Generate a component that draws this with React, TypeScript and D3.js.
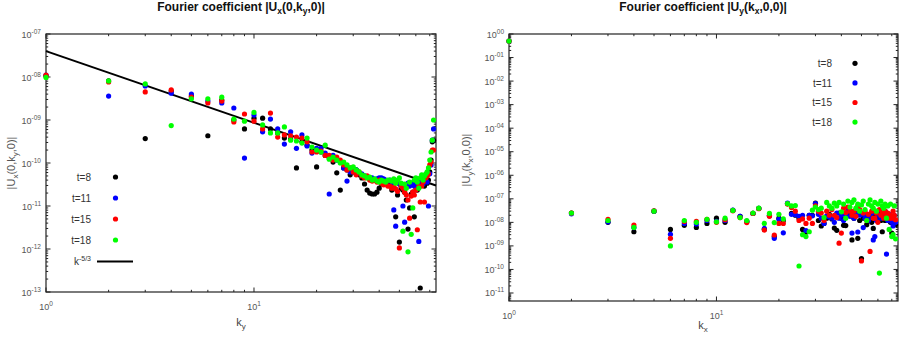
import React from "react";
import * as d3 from "d3";

// ---------- data ----------
const wavenumbers = [
  1, 2, 3, 4, 5, 6, 7, 8, 9, 10, 11, 12, 13, 14, 15, 16, 17, 18, 19, 20,
  21, 22, 23, 24, 25, 26, 27, 28, 29, 30, 31, 32, 33, 34, 35, 36, 37, 38, 39, 40,
  41, 42, 43, 44, 45, 46, 47, 48, 49, 50, 51, 52, 53, 54, 55, 56, 57, 58, 59, 60,
  61, 62, 63, 64, 65, 66, 67, 68, 69, 70, 71, 72, 73,
];

// |Ux(0,ky,0)|
const uxT8 = [
  1.05e-8, 8.1e-9, 3.7e-10, 4.7e-9, 3.6e-9, 4.3e-10, 2.9e-9, 1.0e-9, 6.2e-10, 1.1e-9,
  1.1e-9, 6.2e-10, 5.0e-10, 3.8e-10, 3.6e-10, 7.7e-11, 3.1e-10, 2.6e-10, 2.0e-10, 8.1e-11,
  1.8e-10, 1.5e-10, 1.3e-10, 1.05e-10, 5.9e-11, 2.35e-11, 7.7e-11, 6.9e-11, 5.3e-11, 6.2e-11,
  6.9e-11, 5.3e-11, 4.5e-11, 3.25e-11, 2.35e-11, 2.0e-11, 1.9e-11, 1.9e-11, 2.1e-11, 2.6e-11,
  3.25e-11, 4.0e-11, 3.8e-11, 3.4e-11, 3.25e-11, 2.35e-11, 3.4e-11, 5.6e-12, 1.8e-11, 1.45e-12,
  2.6e-11, 2.35e-11, 2.1e-11, 1.38e-11, 2.9e-12, 9.0e-12, 1.9e-11, 2.1e-11, 5.6e-12, 2.75e-11,
  2.35e-11, 3.1e-11, 1.24e-13, 3.6e-11, 3.25e-11, 2.9e-11, 3.6e-11, 3.4e-11, 4.0e-11, 6.2e-11,
  1.17e-10, 3.1e-10, 3.4e-10,
];
const uxT11 = [
  1.11e-8, 3.6e-9, 6.2e-9, 4.2e-9, 4.0e-9, 2.75e-9, 2.5e-9, 1.9e-9, 1.3e-10, 1.3e-9,
  5.3e-10, 1.05e-9, 6.2e-10, 2.75e-10, 5.3e-10, 2.2e-10, 4.5e-10, 2.5e-10, 1.7e-10, 2.2e-10,
  2.2e-10, 1.7e-10, 1.9e-11, 1.5e-10, 1.17e-10, 1.05e-10, 7.7e-11, 3.8e-11, 6.2e-11, 6.2e-11,
  6.9e-11, 5.9e-11, 5.6e-11, 5.0e-11, 4.7e-11, 4.3e-11, 4.5e-11, 4.0e-11, 4.3e-11, 4.5e-11,
  4.5e-11, 4.3e-11, 4.0e-11, 3.8e-11, 4.0e-11, 3.1e-11, 8.1e-12, 3.4e-12, 3.6e-11, 3.25e-11,
  2.9e-11, 1.0e-11, 4.2e-12, 2.9e-11, 3.4e-11, 2.9e-11, 3.4e-11, 3.4e-11, 2.9e-11, 3.25e-11,
  4.0e-11, 1.5e-12, 3.6e-11, 4.5e-11, 3.25e-11, 4.5e-11, 4.0e-11, 3.6e-11, 1.0e-11, 5.6e-11,
  9.0e-11, 3.4e-10, 6.2e-10,
];
const uxT15 = [
  1.1e-8, 7.7e-9, 4.5e-9, 5.0e-9, 3.4e-9, 2.5e-9, 2.75e-9, 9.0e-10, 1.38e-9, 9.4e-10,
  6.2e-10, 1.45e-9, 4.0e-10, 4.5e-10, 4.3e-10, 4.0e-10, 3.8e-10, 3.1e-10, 1.8e-10, 1.8e-10,
  1.9e-10, 1.5e-10, 1.5e-10, 1.17e-10, 1.37e-10, 1.17e-10, 9.0e-11, 6.9e-11, 7.7e-11, 6.2e-11,
  5.3e-11, 6.2e-11, 5.0e-11, 4.5e-11, 5.0e-11, 4.0e-11, 3.8e-11, 4.0e-11, 3.6e-11, 4.0e-11,
  3.4e-11, 3.1e-11, 3.25e-11, 2.9e-11, 2.9e-11, 2.6e-11, 2.75e-11, 2.5e-11, 2.2e-11, 1.06e-12,
  2.9e-11, 2.6e-11, 2.1e-11, 1.8e-11, 1.38e-11, 5.2e-12, 1.7e-11, 2.1e-11, 1.8e-11, 2.35e-11,
  2.8e-12, 2.9e-11, 1.24e-11, 2.9e-11, 3.6e-11, 1.24e-11, 4.5e-11, 5.0e-11, 5.6e-11, 9.0e-11,
  1.05e-10, 2.0e-10, 2.0e-10,
];
const uxT18 = [
  9.8e-9, 8.1e-9, 6.9e-9, 7.4e-10, 3.1e-9, 3.1e-9, 3.4e-9, 1.05e-9, 9.4e-10, 1.5e-9,
  7.7e-10, 5.0e-10, 5.0e-10, 6.9e-10, 3.4e-10, 3.25e-10, 2.9e-10, 3.8e-10, 2.35e-10, 2.0e-10,
  1.8e-10, 2.6e-10, 1.23e-10, 1.37e-10, 1.17e-10, 1.0e-10, 1.05e-10, 9.0e-11, 7.7e-11, 8.1e-11,
  6.9e-11, 6.2e-11, 5.3e-11, 5.0e-11, 4.5e-11, 4.7e-11, 4.0e-11, 4.3e-11, 3.8e-11, 3.6e-11,
  4.0e-11, 3.8e-11, 3.6e-11, 4.0e-11, 4.0e-11, 3.8e-11, 4.3e-11, 3.4e-11, 4.0e-11, 4.5e-11,
  3.4e-11, 2.6e-12, 3.25e-11, 2.6e-11, 8.6e-13, 3.6e-11, 2.2e-12, 9.0e-12, 4.0e-11, 4.5e-11,
  3.6e-11, 2.6e-11, 4.5e-11, 5.3e-11, 4.0e-11, 5.0e-11, 5.6e-11, 6.2e-11, 7.7e-11, 1.17e-10,
  1.8e-10, 3.4e-10, 1.0e-9,
];

// |Uy(kx,0,0)|
const uyT8 = [
  0.5, 2.5e-8, 1.0e-8, 4.0e-9, 3.0e-8, 5.0e-9, 7.5e-9, 6.1e-9, 9.0e-9, 1.5e-8,
  1.0e-8, 3.2e-8, 1.8e-8, 1.1e-8, 2.4e-8, 3.9e-8, 5.0e-9, 2.0e-8, 2.5e-9, 1.5e-8,
  1.2e-8, 6.3e-8, 2.4e-8, 2.0e-8, 1.5e-8, 5.0e-9, 3.8e-9, 2.0e-8, 2.0e-8, 6.5e-8,
  1.2e-8, 7.0e-9, 9.0e-9, 1.5e-8, 2.2e-8, 1.4e-8, 5.7e-9, 4.6e-9, 2.5e-8, 1.5e-8,
  7.5e-9, 7.3e-9, 2.0e-8, 3.0e-8, 1.8e-9, 1.5e-8, 2.2e-8, 2.1e-9, 1.2e-8, 2.9e-10,
  1.5e-8, 2.5e-8, 8.0e-9, 1.5e-8, 2.0e-8, 1.0e-8, 5.5e-9, 2.0e-8, 1.8e-8, 1.5e-8,
  3.0e-8, 1.2e-8, 4.0e-9, 2.0e-8, 1.2e-8, 2.5e-8, 1.5e-8, 2.0e-8, 1.0e-8, 3.5e-9,
  1.5e-8, 1.2e-8, 8.0e-9,
];
const uyT11 = [
  0.5, 2.3e-8, 1.05e-8, 6.0e-9, 3.0e-8, 3.1e-9, 9.0e-9, 8.6e-9, 1.2e-8, 1.1e-8,
  1.2e-8, 3.3e-8, 1.8e-8, 1.1e-8, 2.4e-8, 3.9e-8, 5.5e-9, 1.9e-8, 2.1e-9, 1.35e-8,
  3.6e-9, 6.5e-8, 2.2e-8, 2.1e-8, 1.8e-8, 2.0e-8, 4.5e-9, 2.0e-8, 1.9e-8, 6.2e-8,
  2.2e-8, 1.5e-8, 9.0e-9, 1.9e-8, 1.7e-8, 1.5e-8, 1.0e-8, 2.5e-8, 1.5e-8, 2.0e-8,
  1.2e-8, 2.2e-8, 3.0e-8, 1.8e-8, 3.5e-9, 1.5e-8, 2.5e-8, 3.9e-9, 2.0e-8, 2.2e-8,
  6.0e-9, 1.5e-8, 2.0e-8, 1.2e-8, 1.8e-8, 2.5e-8, 1.8e-9, 2.5e-9, 1.2e-8, 2.0e-8,
  2.5e-8, 1.5e-8, 2.0e-8, 1.8e-8, 3.0e-8, 4.5e-10, 1.2e-8, 2.2e-8, 1.5e-8, 1.0e-8,
  7.0e-9, 2.0e-8, 1.0e-8,
];
const uyT15 = [
  0.5, 2.5e-8, 1.35e-8, 7.7e-9, 3.1e-8, 2.1e-9, 1.1e-8, 1.1e-8, 1.35e-8, 1.0e-8,
  1.3e-8, 3.1e-8, 1.6e-8, 9.8e-9, 2.4e-8, 3.8e-8, 4.7e-9, 1.8e-8, 2.9e-9, 9.0e-9,
  9.0e-9, 6.0e-8, 4.3e-8, 3.0e-8, 1.2e-8, 1.4e-8, 9.0e-9, 1.5e-8, 9.0e-9, 5.0e-8,
  3.0e-8, 2.5e-8, 1.2e-8, 3.0e-8, 2.0e-8, 3.5e-8, 2.0e-8, 1.6e-8, 1.3e-9, 3.5e-9,
  4.0e-8, 2.6e-8, 4.5e-8, 3.0e-8, 2.0e-8, 3.0e-8, 1.8e-8, 5.0e-8, 3.5e-8, 2.3e-10,
  2.5e-8, 3.0e-8, 1.2e-8, 2.2e-8, 5.8e-10, 3.0e-8, 1.5e-8, 1.5e-8, 2.5e-8, 1.0e-8,
  3.5e-8, 2.0e-8, 2.5e-8, 1.5e-8, 3.0e-8, 2.0e-8, 2.5e-8, 1.5e-8, 2.0e-8, 1.5e-8,
  3.0e-8, 2.0e-8, 1.3e-8,
];
const uyT18 = [
  0.5, 2.5e-8, 1.2e-8, 6.1e-9, 3.0e-8, 1.0e-9, 1.2e-8, 1.0e-8, 1.35e-8, 1.05e-8,
  1.5e-8, 3.2e-8, 1.6e-8, 1.2e-8, 2.5e-8, 4.0e-8, 9.0e-9, 2.4e-8, 9.8e-9, 2.2e-8,
  1.4e-8, 6.3e-8, 5.0e-8, 5.2e-8, 1.4e-10, 3.0e-9, 2.5e-9, 4.0e-9, 3.3e-8, 4.5e-8,
  3.5e-8, 4.0e-8, 1.6e-8, 7.0e-8, 5.0e-8, 4.0e-8, 6.5e-8, 5.0e-8, 7.0e-8, 2.8e-8,
  6.0e-8, 1.5e-8, 8.0e-8, 4.5e-8, 7.0e-8, 9.0e-8, 4.0e-8, 6.0e-8, 3.0e-8, 5.5e-8,
  8.0e-8, 3.5e-8, 1.2e-8, 6.0e-8, 9.0e-8, 5.0e-8, 4.0e-8, 7.0e-8, 3.0e-8, 6.0e-8,
  7.0e-11, 8.0e-8, 5.0e-8, 4.0e-8, 6.0e-8, 1.5e-8, 5.0e-8, 5.0e-9, 6.0e-8, 2.5e-9,
  3.0e-9, 5.0e-8, 2.0e-9,
];

const seriesLabels = ["t=8", "t=11", "t=15", "t=18"];
const seriesColors = ["#000000", "#0000ff", "#ff0000", "#00ff00"];
const leftSeries = [uxT8, uxT11, uxT15, uxT18];
const rightSeries = [uyT8, uyT11, uyT15, uyT18];

const leftYExponents = [-7, -8, -9, -10, -11, -12, -13];
const rightYExponents = [0, -1, -2, -3, -4, -5, -6, -7, -8, -9, -10, -11];
const xExponents = [0, 1];

// reference power law k^(-5/3)
const powerLawCoef = 4.0e-8;
const powerLawExp = -5 / 3;
const powerLawRange = [1, 75];

// ---------- helpers ----------
type PanelCfg = {
  x0: number; x1: number; y0: number; y1: number;
  xDomain: [number, number]; yDomain: [number, number];
  yExps: number[];
};

function logTickValues(domain: [number, number]) {
  const out: { v: number; major: boolean }[] = [];
  const lo = Math.floor(Math.log10(domain[0]));
  const hi = Math.ceil(Math.log10(domain[1]));
  for (let d = lo; d <= hi; d++) {
    for (let m = 1; m <= 9; m++) {
      const v = m * Math.pow(10, d);
      if (v >= domain[0] * 0.9999 && v <= domain[1] * 1.0001) out.push({ v, major: m === 1 });
    }
  }
  return out;
}

function fmtExp(e: number) {
  if (e === 0) return "00";
  const a = Math.abs(e);
  return (e < 0 ? "-" : "") + (a < 10 ? "0" + a : String(a));
}

const tickFont = "'Liberation Sans', Arial, Helvetica, sans-serif";
const tickColor = "#555";

function Panel({ cfg, series, children }: any) {
  const xs = d3.scaleLog().domain(cfg.xDomain).range([cfg.x0, cfg.x1]);
  const ys = d3.scaleLog().domain(cfg.yDomain).range([cfg.y1, cfg.y0]);
  const xt = logTickValues(cfg.xDomain);
  const yt = logTickValues(cfg.yDomain);
  const MAJ = 4.5, MIN = 2.2;
  return (
    <g>
      {xt.map((t, i) => {
        const x = xs(t.v);
        const L = t.major ? MAJ : MIN;
        return (
          <g key={"xt" + i}>
            <line x1={x} x2={x} y1={cfg.y1} y2={cfg.y1 - L} stroke="#222" strokeWidth={1} />
            <line x1={x} x2={x} y1={cfg.y0} y2={cfg.y0 + L} stroke="#222" strokeWidth={1} />
          </g>
        );
      })}
      {yt.map((t, i) => {
        const y = ys(t.v);
        const L = t.major ? MAJ : MIN;
        return (
          <g key={"yt" + i}>
            <line x1={cfg.x0} x2={cfg.x0 + L} y1={y} y2={y} stroke="#222" strokeWidth={1} />
            <line x1={cfg.x1} x2={cfg.x1 - L} y1={y} y2={y} stroke="#222" strokeWidth={1} />
          </g>
        );
      })}
      <rect x={cfg.x0} y={cfg.y0} width={cfg.x1 - cfg.x0} height={cfg.y1 - cfg.y0}
        fill="none" stroke="#222" strokeWidth={1.2} />
      {cfg.yExps.map((e: number) => (
        <text key={"yl" + e} x={cfg.x0 - 5} y={ys(Math.pow(10, e)) + 3.5} textAnchor="end"
          fontFamily={tickFont} fontSize={9} fill={tickColor}>
          10<tspan dy={-4} fontSize={6.5}>{fmtExp(e)}</tspan>
        </text>
      ))}
      {xExponents.map((e) => (
        <text key={"xl" + e} x={xs(Math.pow(10, e))} y={cfg.y1 + 18} textAnchor="middle"
          fontFamily={tickFont} fontSize={9} fill={tickColor}>
          10<tspan dy={-4} fontSize={6.5}>{String(e)}</tspan>
        </text>
      ))}
      {children(xs, ys)}
      {series.map((vals: number[], si: number) => (
        <g key={"s" + si} fill={seriesColors[si]}>
          {vals.map((v, i) => (
            <circle key={i} cx={xs(wavenumbers[i])} cy={ys(v)} r={2.6} />
          ))}
        </g>
      ))}
    </g>
  );
}

export default function App() {
  const left: PanelCfg = {
    x0: 46, x1: 436, y0: 34, y1: 292,
    xDomain: [1, 75], yDomain: [1e-13, 1e-7], yExps: leftYExponents,
  };
  const right: PanelCfg = {
    x0: 509, x1: 898, y0: 34, y1: 301,
    xDomain: [1, 75], yDomain: [Math.pow(10, -11.34), 1], yExps: rightYExponents,
  };
  const lineGen = d3.line<[number, number]>();

  return (
    <svg width={900} height={339} style={{ position: "absolute", left: 0, top: 0, background: "#fff" }}
      xmlns="http://www.w3.org/2000/svg">
      <rect x={0} y={0} width={900} height={339} fill="#fff" />
      <text x={241} y={11} textAnchor="middle" fontFamily={tickFont} fontWeight="bold" fontSize={12} fill="#111">
        Fourier coefficient |U<tspan dy={3} fontSize={8.5}>x</tspan><tspan dy={-3}>(0,k</tspan>
        <tspan dy={3} fontSize={8.5}>y</tspan><tspan dy={-3}>,0)|</tspan>
      </text>
      <text x={703} y={11} textAnchor="middle" fontFamily={tickFont} fontWeight="bold" fontSize={12} fill="#111">
        Fourier coefficient |U<tspan dy={3} fontSize={8.5}>y</tspan><tspan dy={-3}>(k</tspan>
        <tspan dy={3} fontSize={8.5}>x</tspan><tspan dy={-3}>,0,0)|</tspan>
      </text>

      <Panel cfg={left} series={leftSeries}>
        {(xs: any, ys: any) => {
          const pts = powerLawRange.map((k) => [xs(k), ys(powerLawCoef * Math.pow(k, powerLawExp))] as [number, number]);
          return <path d={lineGen(pts) || ""} stroke="#000" strokeWidth={2} fill="none" />;
        }}
      </Panel>
      <Panel cfg={right} series={rightSeries}>
        {() => null}
      </Panel>

      <text x={241} y={326} textAnchor="middle" fontFamily={tickFont} fontSize={11} fill="#444">
        k<tspan dy={3} fontSize={8}>y</tspan>
      </text>
      <text x={703} y={329} textAnchor="middle" fontFamily={tickFont} fontSize={11} fill="#444">
        k<tspan dy={3} fontSize={8}>x</tspan>
      </text>
      <text transform="translate(15,163) rotate(-90)" textAnchor="middle" fontFamily={tickFont} fontSize={11} fill="#555">
        |U<tspan dy={3} fontSize={8}>x</tspan><tspan dy={-3}>(0,k</tspan>
        <tspan dy={3} fontSize={8}>y</tspan><tspan dy={-3}>,0)|</tspan>
      </text>
      <text transform="translate(470,160) rotate(-90)" textAnchor="middle" fontFamily={tickFont} fontSize={11} fill="#555">
        |U<tspan dy={3} fontSize={8}>y</tspan><tspan dy={-3}>(k</tspan>
        <tspan dy={3} fontSize={8}>x</tspan><tspan dy={-3}>,0,0)|</tspan>
      </text>

      {seriesLabels.map((lab, i) => (
        <g key={"ll" + i}>
          <text x={91} y={181 + i * 21} textAnchor="end" fontFamily={tickFont} fontSize={10} fill="#333">{lab}</text>
          <circle cx={115.5} cy={177 + i * 21} r={2.6} fill={seriesColors[i]} />
        </g>
      ))}
      <text x={91} y={265} textAnchor="end" fontFamily={tickFont} fontSize={10} fill="#333">
        k<tspan dy={-4} fontSize={7}>-5/3</tspan>
      </text>
      <path d={lineGen([[97, 261.5], [133, 261.5]]) || ""} stroke="#000" strokeWidth={2} />

      {seriesLabels.map((lab, i) => (
        <g key={"rl" + i}>
          <text x={832} y={67 + i * 19.6} textAnchor="end" fontFamily={tickFont} fontSize={10} fill="#333">{lab}</text>
          <circle cx={855} cy={63.3 + i * 19.6} r={2.6} fill={seriesColors[i]} />
        </g>
      ))}
    </svg>
  );
}
